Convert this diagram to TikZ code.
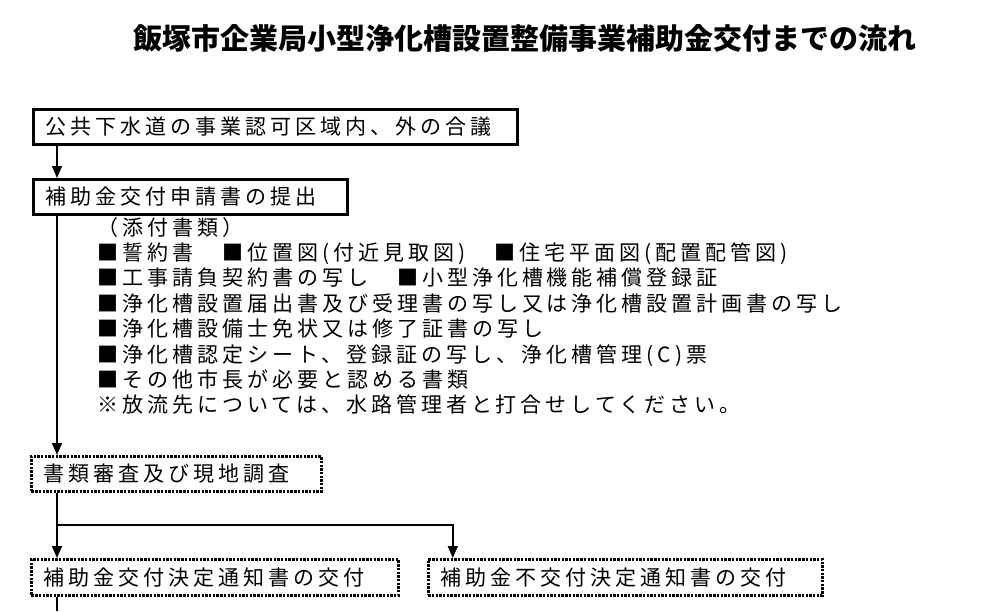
\documentclass[tikz,border=0pt]{standalone}
\usepackage{fontspec}
\usetikzlibrary{arrows.meta, positioning, calc}
\newfontfamily\jpfont[LetterSpace=19]{Noto Sans CJK JP}
\newfontfamily\titlefont{Noto Sans CJK JP}
\tikzstyle{solidbox} = [rectangle, anchor=north west, minimum height=35pt, inner xsep=12pt, align=left, draw=black, line width=2.6pt, font=\jpfont\fontsize{21pt}{24pt}\selectfont]
\tikzstyle{dotbox} = [solidbox, line width=2.8pt, dash pattern=on 2.4pt off 1.3pt]
\tikzstyle{listtext} = [anchor=north west, inner sep=0pt, align=left, font=\jpfont\fontsize{21pt}{25.4pt}\selectfont]
\tikzstyle{link} = [line width=1.6pt]
\tikzstyle{arrow} = [link, -{Triangle[length=12pt,width=10pt]}]

\begin{document}
\begin{tikzpicture}[x=1pt,y=1pt]
\useasboundingbox (0,0) rectangle (1001,-611);

% タイトル
\node (title) at (525,-38) {\titlefont\bfseries\fontsize{29pt}{29pt}\selectfont 飯塚市企業局小型浄化槽設置整備事業補助金交付までの流れ};

% 手続きの箱（座標で配置）
\node (gougi) [solidbox, text width=460pt] at (32,-108) {公共下水道の事業認可区域内、外の合議};
\node (shinsei) [solidbox, text width=290pt] at (32,-178) {補助金交付申請書の提出};
\node (tenpu) [listtext] at (97,-217) {（添付書類）\\
■誓約書　■位置図(付近見取図)　■住宅平面図(配置配管図)\\
■工事請負契約書の写し　■小型浄化槽機能補償登録証\\
■浄化槽設置届出書及び受理書の写し又は浄化槽設置計画書の写し\\
■浄化槽設備士免状又は修了証書の写し\\
■浄化槽認定シート、登録証の写し、浄化槽管理(C)票\\
■その他市長が必要と認める書類\\
※放流先については、水路管理者と打合せしてください。};
\node (shinsa) [dotbox, text width=266pt] at (30,-455) {書類審査及び現地調査};
\node (kettei) [dotbox, text width=343pt, minimum height=36pt] at (30,-558) {補助金交付決定通知書の交付};
\node (fukettei) [dotbox, text width=370pt, minimum height=36pt, right=27pt of kettei] {補助金不交付決定通知書の交付};

% 分岐点と下への続き
\coordinate (branch) at (57,-525);
\coordinate (next) at (57,-611);

% 接続線
\draw [arrow] (gougi.south -| branch) -- (shinsei.north -| branch);
\draw [arrow] (shinsei.south -| branch) -- (shinsa.north -| branch);
\draw [link] (shinsa.south -| branch) -- (branch);
\draw [arrow] (branch) -- (kettei.north -| branch);
\draw [arrow] (branch) -| ([xshift=26pt]fukettei.north west);
\draw [link] (kettei.south -| branch) -- (next);

\end{tikzpicture}
\end{document}
